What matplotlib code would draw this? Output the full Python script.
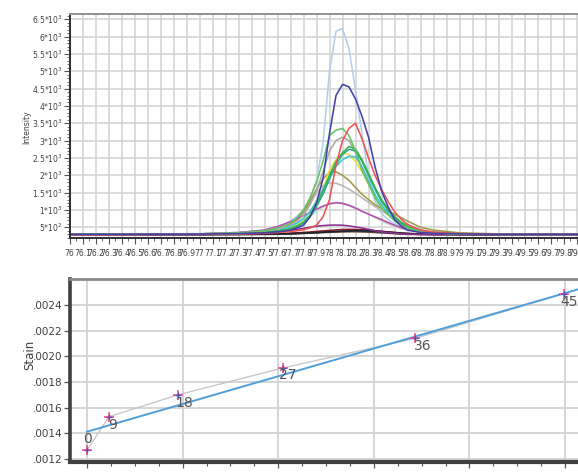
import matplotlib
matplotlib.use("Agg")
import matplotlib.pyplot as plt
from matplotlib.ticker import MultipleLocator, FixedLocator, FuncFormatter

# ---------------- data: top panel (intensity profiles) ----------------
two_theta = [76.0, 76.5, 77.0, 77.3, 77.5, 77.6, 77.65, 77.7, 77.75, 77.8, 77.85, 77.9,
             77.95, 78.0, 78.05, 78.1, 78.15, 78.2, 78.25, 78.3, 78.35, 78.4, 78.45,
             78.5, 78.55, 78.6, 78.7, 78.8, 79.0, 79.3, 79.6, 80.0]

light_blue = [300, 305, 320, 350, 420, 520, 590, 680, 820, 1000, 1300, 1850, 2900, 5000, 6150,
              6230, 5650, 4450, 3200, 2000, 1250, 900, 730, 600, 510, 440, 380, 340, 315, 305,
              300, 300]
dark_blue = [300, 300, 305, 320, 340, 370, 390, 420, 480, 560, 800, 1200, 1900, 3200, 4300,
             4620, 4550, 4200, 3700, 3100, 2250, 1550, 1100, 720, 540, 420, 350, 325, 310, 300,
             300, 300]
red = [290, 295, 300, 310, 330, 350, 365, 380, 400, 430, 480, 560, 800, 1300, 2300, 3000,
       3350, 3500, 3050, 2500, 2000, 1600, 1250, 950, 740, 580, 420, 360, 320, 300, 300, 300]
green1 = [300, 300, 310, 340, 400, 480, 540, 620, 780, 1000, 1350, 1800, 2400, 3150, 3300,
          3350, 3150, 2700, 2150, 1750, 1350, 1050, 860, 700, 570, 480, 380, 340, 310, 300,
          300, 300]
gray1 = [300, 300, 305, 330, 380, 450, 500, 560, 680, 850, 1150, 1550, 2100, 2700, 3000,
         3100, 3000, 2650, 2200, 1800, 1400, 1100, 900, 720, 600, 500, 390, 340, 310, 300,
         300, 300]
green2 = [300, 300, 305, 320, 350, 390, 420, 460, 540, 650, 850, 1150, 1550, 2000, 2400,
          2650, 2830, 2750, 2450, 2050, 1650, 1300, 1030, 820, 650, 520, 400, 350, 315, 300,
          300, 300]
teal = [300, 300, 305, 320, 350, 390, 415, 450, 520, 620, 800, 1100, 1450, 1900, 2300, 2600,
        2750, 2700, 2400, 2000, 1600, 1250, 990, 780, 620, 500, 390, 345, 312, 300, 300, 300]
yellow = [300, 300, 305, 320, 350, 400, 440, 500, 600, 750, 950, 1250, 1600, 2150, 2450,
          2640, 2600, 2400, 2100, 1750, 1400, 1100, 880, 700, 580, 480, 380, 340, 310, 300,
          300, 300]
cyan = [300, 300, 305, 320, 350, 400, 450, 520, 620, 750, 950, 1250, 1600, 1950, 2250, 2450,
        2550, 2530, 2250, 1850, 1450, 1150, 900, 700, 570, 470, 380, 340, 310, 300, 300, 300]
olive = [300, 300, 310, 340, 400, 470, 530, 600, 750, 950, 1250, 1600, 1900, 2080, 2100,
         2000, 1850, 1650, 1450, 1300, 1150, 1050, 960, 880, 780, 680, 500, 420, 340, 310,
         300, 300]
gray2 = [300, 300, 310, 340, 400, 460, 510, 580, 720, 900, 1200, 1500, 1700, 1780, 1770,
         1700, 1600, 1480, 1350, 1220, 1100, 980, 870, 760, 650, 560, 430, 370, 320, 305,
         300, 300]
pale_green = [300, 300, 310, 330, 380, 430, 470, 520, 600, 700, 820, 950, 1080, 1170, 1200,
              1190, 1150, 1080, 980, 880, 780, 680, 600, 520, 460, 420, 360, 330, 310, 300,
              300, 300]
magenta = [290, 295, 310, 350, 420, 520, 590, 660, 750, 840, 930, 1020, 1110, 1180, 1210,
           1190, 1130, 1050, 960, 880, 800, 720, 640, 560, 490, 430, 370, 330, 305, 300,
           295, 295]
purple = [290, 290, 295, 300, 320, 360, 385, 410, 440, 470, 500, 530, 550, 560, 565, 560,
          540, 510, 480, 440, 400, 370, 350, 330, 315, 305, 295, 290, 290, 290, 290, 290]
black = [295, 295, 295, 298, 302, 308, 312, 318, 325, 332, 340, 350, 360, 370, 380, 390,
         400, 405, 405, 400, 390, 378, 365, 350, 335, 322, 305, 298, 295, 295, 295, 295]
dark_red = [300, 300, 300, 303, 308, 315, 322, 330, 340, 352, 365, 380, 395, 410, 425, 435,
            440, 437, 430, 418, 402, 385, 368, 350, 335, 322, 308, 302, 300, 300, 300, 300]
navy = [290, 290, 292, 295, 300, 305, 310, 316, 323, 330, 338, 348, 358, 368, 378, 386,
        392, 395, 392, 385, 375, 362, 348, 334, 320, 308, 298, 293, 290, 290, 290, 290]
brown = [285, 285, 287, 290, 295, 300, 305, 310, 316, 322, 330, 338, 346, 354, 362, 368,
         372, 372, 368, 360, 350, 340, 328, 316, 305, 296, 290, 287, 285, 285, 285, 285]

profiles = [
    (brown, "#6a4020"), (navy, "#283c78"), (dark_red, "#8a1a30"), (black, "#222222"),
    (light_blue, "#b3cfee"), (pale_green, "#c6dec2"), (gray2, "#b8b8b8"),
    (olive, "#a39a4c"), (magenta, "#b84cb4"), (purple, "#8a3090"),
    (gray1, "#a8a8a8"), (yellow, "#e6e03c"), (cyan, "#3cc6d6"),
    (teal, "#2aa888"), (green2, "#3cb050"), (green1, "#66c466"),
    (red, "#f05454"), (dark_blue, "#4242a8"),
]

y_ticks_top = [500, 1000, 1500, 2000, 2500, 3000, 3500, 4000, 4500, 5000, 5500, 6000, 6500]
y_labels_top = ["5*10$^2$", "1*10$^3$", "1.5*10$^3$", "2*10$^3$", "2.5*10$^3$", "3*10$^3$",
                "3.5*10$^3$", "4*10$^3$", "4.5*10$^3$", "5*10$^3$", "5.5*10$^3$",
                "6*10$^3$", "6.5*10$^3$"]

# ---------------- data: bottom panel (strain) ----------------
load = [0.0, 0.23, 0.95, 2.05, 3.43, 4.99]
strain = [0.00127, 0.00153, 0.00170, 0.00191, 0.00214, 0.00249]
point_labels = ["0", "9", "18", "27", "36", "45"]
fit_intercept = 0.001413
fit_slope = 0.000216
x_ticks_bottom = [0, 1, 2, 3, 4, 5]
x_labels_bottom = ["0", "10", "20", "30", "40", "50"]
y_ticks_bottom = [0.0012, 0.0014, 0.0016, 0.0018, 0.0020, 0.0022, 0.0024]

# ---------------- figure ----------------
W, H = 578, 475
fig = plt.figure(figsize=(W / 100, H / 100), dpi=100)
fig.patch.set_facecolor("white")

tick_col = "#404040"
grid_col = "#d2d2d2"

# ---- top axes ----
ax1 = fig.add_axes([69.5 / W, 1 - 237.7 / H, 520 / W, (237.7 - 14) / H])
for vals, col in profiles:
    ax1.plot(two_theta, vals, color=col, lw=1.15)
ax1.set_xlim(76.0, 80.0)
ax1.set_ylim(200, 6650)
ax1.xaxis.set_major_locator(MultipleLocator(0.1))
ax1.xaxis.set_minor_locator(MultipleLocator(0.05))
ax1.xaxis.set_major_formatter(FuncFormatter(lambda v, p: f"{v:.1f}".rstrip("0").rstrip(".")))
ax1.yaxis.set_major_locator(FixedLocator(y_ticks_top))
ax1.set_yticklabels(y_labels_top)
ax1.yaxis.set_minor_locator(MultipleLocator(100))
ax1.tick_params(axis="both", which="major", labelsize=5.5, colors="#555555",
                labelcolor=tick_col, length=4, width=0.8)
ax1.tick_params(axis="both", which="minor", length=2, width=0.6, colors="#555555")
ax1.tick_params(axis="x", pad=4)
ax1.tick_params(axis="y", pad=1)
ax1.grid(True, which="major", color=grid_col, lw=1.1)
ax1.set_axisbelow(True)
for s in ["left", "bottom"]:
    ax1.spines[s].set_color("#303030")
    ax1.spines[s].set_linewidth(1.4)
ax1.spines["top"].set_color("#909090")
ax1.spines["top"].set_linewidth(1.4)
ax1.spines["right"].set_visible(False)
fig.text(27 / W, 1 - 127 / H, "Intensity", rotation=90, ha="center", va="center",
         fontsize=5.5, color=tick_col)

# ---- bottom axes ----
ax2 = fig.add_axes([70 / W, 1 - 462 / H, (610 - 70) / W, (462 - 279) / H])
x0 = -17 / 95.6
x1 = x0 + (610 - 70) / 95.6
ax2.set_xlim(x0, x1)
ax2.set_ylim(0.001177, 0.002603)
ax2.plot(load, strain, color="#c8c8c8", lw=1.0, zorder=2)
fx = [0.0, x1]
fy = [fit_intercept + fit_slope * v for v in fx]
ax2.plot(fx, fy, color="#4f9fdc", lw=1.4, zorder=3)
ax2.plot(load, strain, linestyle="none", marker="+", ms=7.5, mew=1.2,
         color="#f0508a", zorder=4)
ax2.plot(load, strain, linestyle="none", marker="+", ms=4, mew=0.9,
         color="#5050c0", zorder=5)
offsets = [(1, 11), (4, -8), (6, -8), (5, -7), (8, -8), (5, -8)]
for xv, yv, lab, (dx, dy) in zip(load, strain, point_labels, offsets):
    ax2.annotate(lab, (xv, yv), xytext=(dx * 0.72, dy * 0.72), textcoords="offset points",
                 ha="center", va="center", fontsize=10, color="#555555", zorder=6)
ax2.xaxis.set_major_locator(FixedLocator(x_ticks_bottom))
ax2.set_xticklabels(x_labels_bottom)
ax2.xaxis.set_minor_locator(MultipleLocator(0.25))
ax2.yaxis.set_major_locator(FixedLocator(y_ticks_bottom))
ax2.yaxis.set_major_formatter(FuncFormatter(lambda v, p: f"{v:.4f}"[1:]))
ax2.tick_params(axis="both", which="major", labelsize=7.5, colors="#555555",
                labelcolor=tick_col, length=4.5, width=0.9)
ax2.tick_params(axis="x", which="minor", length=3, width=0.8, colors="#555555")
ax2.tick_params(axis="x", pad=6)
ax2.tick_params(axis="y", pad=1)
ax2.grid(True, which="major", color=grid_col, lw=1.3)
ax2.set_axisbelow(True)
ax2.spines["left"].set_color("#404040")
ax2.spines["left"].set_linewidth(2.6)
ax2.spines["bottom"].set_color("#404040")
ax2.spines["bottom"].set_linewidth(3.0)
ax2.spines["top"].set_color("#8a8a8a")
ax2.spines["top"].set_linewidth(2.0)
ax2.spines["right"].set_visible(False)
fig.text(30 / W, 1 - 355 / H, "Stain", rotation=90, ha="center", va="center",
         fontsize=8.5, color=tick_col)

fig.savefig("out.png", dpi=100)
